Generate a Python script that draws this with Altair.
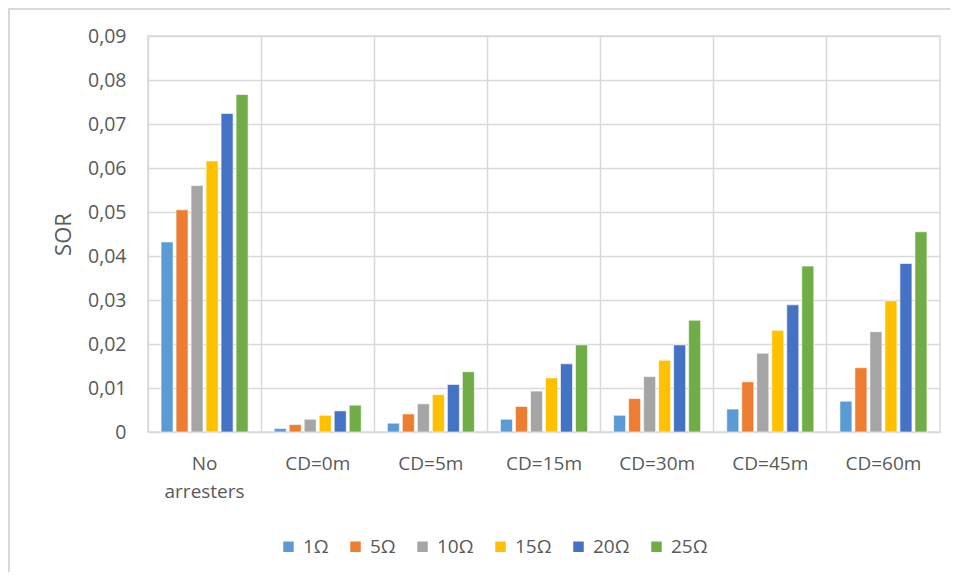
import altair as alt
import pandas as pd

categories = ["No arresters", "CD=0m", "CD=5m", "CD=15m", "CD=30m", "CD=45m", "CD=60m"]
series = ["1Ω", "5Ω", "10Ω", "15Ω", "20Ω", "25Ω"]
colors = ["#5B9BD5", "#ED7D31", "#A5A5A5", "#FFC000", "#4472C4", "#70AD47"]

v_1 = [0.0432, 0.0008, 0.0020, 0.0029, 0.0038, 0.0052, 0.0070]
v_5 = [0.0505, 0.0017, 0.0041, 0.0058, 0.0076, 0.0114, 0.0146]
v_10 = [0.0560, 0.0029, 0.0064, 0.0093, 0.0126, 0.0179, 0.0228]
v_15 = [0.0616, 0.0038, 0.0085, 0.0123, 0.0163, 0.0231, 0.0298]
v_20 = [0.0724, 0.0048, 0.0108, 0.0155, 0.0198, 0.0289, 0.0383]
v_25 = [0.0767, 0.0061, 0.0137, 0.0198, 0.0254, 0.0377, 0.0455]

y_ticks = [0, 0.01, 0.02, 0.03, 0.04, 0.05, 0.06, 0.07, 0.08, 0.09]

rows = []
for s, vals in zip(series, [v_1, v_5, v_10, v_15, v_20, v_25]):
    for c, v in zip(categories, vals):
        rows.append({"cat": c, "series": s, "value": v})
df = pd.DataFrame(rows)

FONT = "Open Sans"
TXT = "#595959"
GRID = "#d9d9d9"

bars = alt.Chart(df).mark_bar(stroke="white", strokeWidth=0.6).encode(
    x=alt.X(
        "cat:N",
        sort=categories,
        title=None,
        scale=alt.Scale(paddingInner=0, paddingOuter=0),
        axis=alt.Axis(
            grid=True,
            gridColor=GRID,
            gridWidth=1.5,
            bandPosition=0,
            ticks=False,
            domain=False,
            labelAngle=0,
            labelFont=FONT,
            labelFontSize=19,
            labelColor=TXT,
            labelPadding=22,
            labelLineHeight=28,
            labelExpr="datum.value == 'No arresters' ? ['No', 'arresters'] : datum.value",
        ),
    ),
    xOffset=alt.XOffset(
        "series:N",
        sort=series,
        scale=alt.Scale(paddingInner=0.2, paddingOuter=0.87),
    ),
    y=alt.Y(
        "value:Q",
        title="SOR",
        scale=alt.Scale(domain=[0, 0.09], nice=False),
        axis=alt.Axis(
            values=y_ticks,
            grid=True,
            gridColor=GRID,
            gridWidth=1.5,
            ticks=False,
            domain=False,
            labelFont=FONT,
            labelFontSize=19.5,
            labelColor=TXT,
            labelPadding=22,
            labelExpr="datum.value == 0 ? '0' : replace(format(datum.value, '.2f'), '.', ',')",
            titleFont=FONT,
            titleFontSize=22,
            titleFontWeight="normal",
            titleColor=TXT,
            titlePadding=12,
        ),
    ),
    color=alt.Color(
        "series:N",
        sort=series,
        scale=alt.Scale(domain=series, range=colors),
        legend=alt.Legend(
            title=None,
            orient="none",
            direction="horizontal",
            legendX=131,
            legendY=501,
            symbolType="square",
            symbolSize=110,
            symbolStrokeWidth=0,
            labelFont=FONT,
            labelFontSize=19,
            labelColor=TXT,
            labelOffset=5,
            columnPadding=17,
        ),
    ),
)

frame_top = alt.Chart(pd.DataFrame({"k": [0]})).mark_rule(color=GRID, strokeWidth=2).encode(
    x=alt.value(-140), x2=alt.value(820), y=alt.value(-27)
)
frame_left = alt.Chart(pd.DataFrame({"k": [0]})).mark_rule(color=GRID, strokeWidth=2).encode(
    x=alt.value(-139), y=alt.value(-28), y2=alt.value(540)
)

chart = alt.layer(bars, frame_top, frame_left).properties(
    width=792,
    height=396,
    padding={"left": 140, "top": 28, "right": 10, "bottom": 140},
    autosize=alt.AutoSizeParams(type="none"),
).configure_view(stroke=GRID, strokeWidth=1.5)

chart.save("out.html", embed_options={"renderer": "svg", "actions": False})
